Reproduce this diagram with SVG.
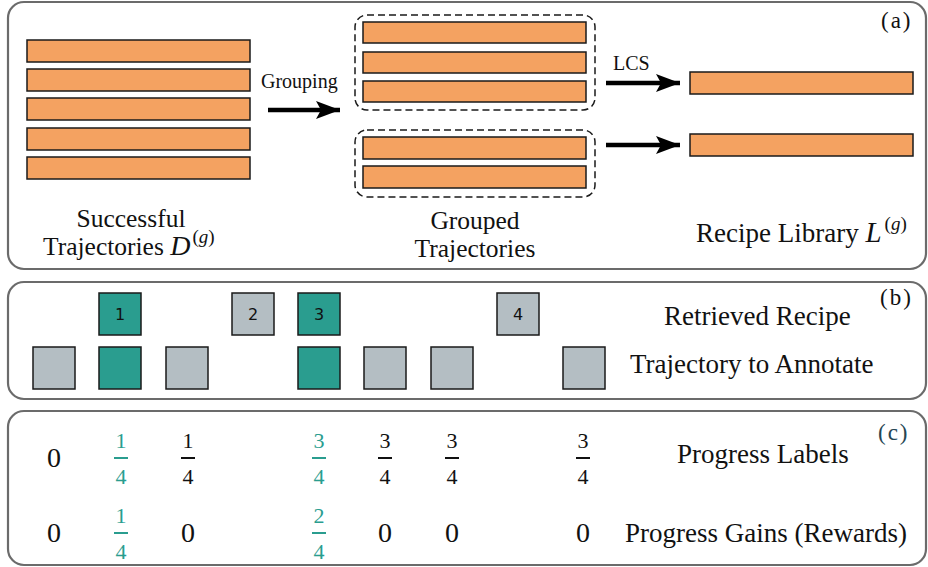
<svg xmlns="http://www.w3.org/2000/svg" width="928" height="567" viewBox="0 0 928 567">
<style>
.panel{fill:#fff;stroke:#6b6b6b;stroke-width:2.2}
.bar{fill:#F4A261;stroke:#1a1a1a;stroke-width:1.5}
.grp{fill:none;stroke:#1a1a1a;stroke-width:1.5;stroke-dasharray:7,4}
.sqT{fill:#2A9D8F;stroke:#1a1a1a;stroke-width:1.5}
.sqG{fill:#B4BEC3;stroke:#1a1a1a;stroke-width:1.5}
.num{font-family:"DejaVu Sans",sans-serif;font-size:16px;fill:#111;text-anchor:middle}
.lbl{font-family:"Liberation Serif","Times New Roman",serif;font-size:27px;fill:#111}
.lbl2{font-family:"Liberation Serif","Times New Roman",serif;font-size:25.5px;fill:#111}
.sm{font-family:"Liberation Serif","Times New Roman",serif;font-size:20px;fill:#111}
.tag{font-family:"Liberation Serif","Times New Roman",serif;font-size:23px;fill:#111;letter-spacing:2px}
.d0{font-family:"Liberation Serif","Times New Roman",serif;font-size:28px;fill:#111;text-anchor:middle}
.fr{font-family:"Liberation Serif","Times New Roman",serif;font-size:22px;text-anchor:middle}
.k{fill:#111}
.t{fill:#2A9D8F}
.arr{stroke:#000;stroke-width:4.5;fill:none}
</style>
<defs>
<marker id="ah" markerUnits="userSpaceOnUse" markerWidth="26" markerHeight="20" refX="24" refY="10" orient="auto">
<path d="M0,1 L24,10 L0,19 L5,10 Z" fill="#000"/>
</marker>
</defs>

<g id="panel-a">
<rect class="panel" x="8" y="2" width="918" height="267" rx="16"/>
<text class="tag" x="881" y="28">(a)</text>
</g>
<g id="successful-trajectories">
<rect class="bar" x="27" y="40" width="223" height="22"/>
<rect class="bar" x="27" y="69" width="223" height="22"/>
<rect class="bar" x="27" y="98" width="223" height="22"/>
<rect class="bar" x="27" y="128" width="223" height="22"/>
<rect class="bar" x="27" y="157" width="223" height="22"/>
<text class="lbl2" x="131" y="226.5" text-anchor="middle">Successful</text>
<text class="lbl2" x="43" y="255">Trajectories <tspan font-style="italic" font-size="28">D</tspan><tspan font-size="19" dx="2" dy="-12">(<tspan font-style="italic">g</tspan>)</tspan></text>
</g>
<g id="grouped-trajectories">
<rect class="grp" x="355" y="15" width="240" height="95" rx="12"/>
<rect class="bar" x="363" y="22" width="223" height="21"/>
<rect class="bar" x="363" y="52" width="223" height="21"/>
<rect class="bar" x="363" y="81" width="223" height="21"/>
<rect class="grp" x="355" y="130" width="240" height="67" rx="12"/>
<rect class="bar" x="363" y="137" width="223" height="22"/>
<rect class="bar" x="363" y="166" width="223" height="22"/>
<text class="lbl2" x="475" y="228.5" text-anchor="middle">Grouped</text>
<text class="lbl2" x="475" y="257" text-anchor="middle">Trajectories</text>
</g>
<g id="recipe-library">
<rect class="bar" x="690" y="72" width="223" height="22"/>
<rect class="bar" x="690" y="134" width="223" height="22"/>
<text class="lbl" x="696" y="242">Recipe Library <tspan font-style="italic" font-size="29">L</tspan><tspan font-size="19" dx="3" dy="-12">(<tspan font-style="italic">g</tspan>)</tspan></text>
</g>
<g id="connectors">
<line class="arr" x1="268" y1="110" x2="340" y2="110" marker-end="url(#ah)"/>
<text class="sm" x="261" y="88">Grouping</text>
<line class="arr" x1="606" y1="83" x2="680" y2="83" marker-end="url(#ah)"/>
<text class="sm" x="613" y="70">LCS</text>
<line class="arr" x1="606" y1="145" x2="680" y2="145" marker-end="url(#ah)"/>
</g>

<g id="panel-b">
<rect class="panel" x="8" y="282" width="918" height="117" rx="16"/>
<text class="tag" x="880" y="305">(b)</text>
<text class="lbl" x="664" y="325">Retrieved Recipe</text>
<text class="lbl" x="630" y="373">Trajectory to Annotate</text>
</g>
<g id="retrieved-recipe">
<rect class="sqT" x="99" y="293" width="42" height="42"/>
<text class="num" x="120" y="320">1</text>
<rect class="sqG" x="232" y="293" width="42" height="42"/>
<text class="num" x="253" y="320">2</text>
<rect class="sqT" x="298" y="293" width="42" height="42"/>
<text class="num" x="319" y="320">3</text>
<rect class="sqG" x="497" y="293" width="42" height="42"/>
<text class="num" x="518" y="320">4</text>
</g>
<g id="trajectory-to-annotate">
<rect class="sqG" x="33" y="347" width="42" height="42"/>
<rect class="sqT" x="99" y="347" width="42" height="42"/>
<rect class="sqG" x="166" y="347" width="42" height="42"/>
<rect class="sqT" x="298" y="347" width="42" height="42"/>
<rect class="sqG" x="364" y="347" width="42" height="42"/>
<rect class="sqG" x="431" y="347" width="42" height="42"/>
<rect class="sqG" x="563" y="347" width="42" height="42"/>
</g>

<g id="panel-c">
<rect class="panel" x="8" y="411" width="918" height="154" rx="16"/>
<text class="tag" x="878" y="440" style="fill:#264653">(c)</text>
<text class="lbl" x="677" y="463">Progress Labels</text>
<text class="lbl" x="625" y="542">Progress Gains (Rewards)</text>
</g>
<g id="progress-labels">
<text class="d0" x="54" y="467">0</text>
<text class="fr t" x="121" y="448">1</text><rect class="t" x="114" y="457" width="14" height="2"/><text class="fr t" x="121" y="484">4</text>
<text class="fr k" x="188" y="448">1</text><rect class="k" x="181" y="457" width="14" height="2"/><text class="fr k" x="188" y="484">4</text>
<text class="fr t" x="319" y="448">3</text><rect class="t" x="312" y="457" width="14" height="2"/><text class="fr t" x="319" y="484">4</text>
<text class="fr k" x="385" y="448">3</text><rect class="k" x="378" y="457" width="14" height="2"/><text class="fr k" x="385" y="484">4</text>
<text class="fr k" x="452" y="448">3</text><rect class="k" x="445" y="457" width="14" height="2"/><text class="fr k" x="452" y="484">4</text>
<text class="fr k" x="583" y="448">3</text><rect class="k" x="576" y="457" width="14" height="2"/><text class="fr k" x="583" y="484">4</text>
</g>
<g id="progress-gains">
<text class="d0" x="54" y="542">0</text>
<text class="fr t" x="121" y="523">1</text><rect class="t" x="114" y="532" width="14" height="2"/><text class="fr t" x="121" y="559">4</text>
<text class="d0" x="188" y="542">0</text>
<text class="fr t" x="319" y="523">2</text><rect class="t" x="312" y="532" width="14" height="2"/><text class="fr t" x="319" y="559">4</text>
<text class="d0" x="385" y="542">0</text>
<text class="d0" x="452" y="542">0</text>
<text class="d0" x="583" y="542">0</text>
</g>
</svg>
